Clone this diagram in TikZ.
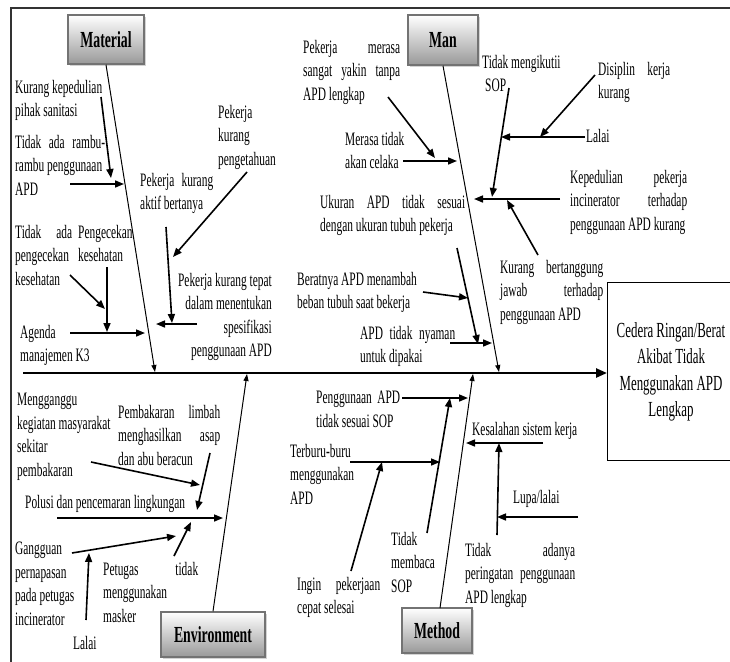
\documentclass[tikz,border=0pt]{standalone}
\usepackage{fontspec}
\setmainfont[FakeStretch=0.6]{Liberation Serif}
\usetikzlibrary{arrows.meta,shadows}
\newcommand\JL[2]{\makebox[#1pt][s]{#2}}
\begin{document}
\begin{tikzpicture}[x=1pt,y=-1pt,
  txt/.style={font=\fontsize{19}{23.5}\selectfont, inner sep=0pt, anchor=north west, align=left},
  cat/.style={draw=black!55, line width=1.5pt, top color=white, bottom color=black!40,
    font=\fontsize{23}{26}\selectfont\bfseries, inner sep=0pt,
    drop shadow={shadow xshift=2pt, shadow yshift=-2pt, opacity=0.35}},
  bone/.style={line width=1pt, -{Triangle[length=7pt,width=5pt]}},
  sub/.style={line width=1.6pt, -{Triangle[length=9pt,width=7pt]}},
  spine/.style={line width=2.4pt, -{Triangle[length=11pt,width=9pt]}},
  frame/.style={line width=1.6pt, draw=black!80}
]
\useasboundingbox (0,0) rectangle (730,661);
% frame
\coordinate (fTL) at (11,8);
\coordinate (fTR) at (731,8);
\coordinate (fBL) at (11,662);
\draw[frame] (fBL) -- (fTL) -- (fTR);

% effect box
\node[draw, line width=1.2pt, anchor=north west, minimum width=130pt, minimum height=178pt, inner sep=0pt] (eff) at (607,282) {};
\node[font=\fontsize{21.5}{26.5}\selectfont, align=center, inner sep=0pt] (efftxt) at (671,372)
  {Cedera Ringan/Berat\\Akibat Tidak\\Menggunakan APD\\Lengkap};

% spine
\coordinate (sL) at (23,373);
\draw[spine] (sL) -- (eff.west |- sL);

% category boxes
\node[cat, minimum width=76pt, minimum height=49pt] (mat) at (106,39.5) {Material};
\node[cat, minimum width=70pt, minimum height=50pt] (man) at (443,40) {Man};
\node[cat, minimum width=104pt, minimum height=45pt] (env) at (213,634.5) {Environment};
\node[cat, minimum width=70pt, minimum height=45pt] (met) at (437,630.5) {Method};

% bones
\coordinate (matS) at (155,372);
\coordinate (manS) at (499,372);
\coordinate (envS) at (247,374);
\coordinate (metS) at (473,374);
\coordinate (metB) at (440,608);
\draw[bone] (mat.south) -- (matS);
\draw[bone] (man.south) -- (manS);
\draw[bone] (env.north) -- (envS);
\draw[bone] (metB) -- (metS);

% ---------- Material texts ----------
\node[txt] (t1) at (15,80) {Kurang kepedulian\\pihak sanitasi};
\node[txt] (t2) at (15,135) {\JL{90}{Tidak ada rambu-}\\rambu penggunaan\\APD};
\node[txt] (t3) at (218,105) {Pekerja\\kurang\\pengetahuan};
\node[txt] (t4) at (140,173) {\JL{73}{Pekerja kurang}\\aktif bertanya};
\node[txt] (t5) at (15,225) {\JL{57}{Tidak ada}\\pengecekan\\kesehatan};
\node[txt] (t6) at (78,225) {Pengecekan\\kesehatan};
\node[txt, anchor=north east, align=right] (t7) at (272,273) {Pekerja kurang tepat\\dalam menentukan\\spesifikasi\\penggunaan APD};
\node[txt] (t8) at (20,325) {Agenda\\manajemen K3};

\coordinate (a1s) at (101,97);  \coordinate (a1e) at (111,178);
\coordinate (a2s) at (70,184);  \coordinate (a2e) at (124,184);
\coordinate (a3s) at (247,172); \coordinate (a3e) at (173,257);
\coordinate (a4s) at (166,227); \coordinate (a4e) at (172,323);
\coordinate (a5s) at (197,324); \coordinate (a5e) at (156,324);
\coordinate (a6s) at (70,275);  \coordinate (a6e) at (105,309);
\coordinate (a7s) at (107,267); \coordinate (a7e) at (107,332);
\coordinate (a8s) at (70,333);  \coordinate (a8e) at (145,333);
\draw[sub] (a1s) -- (a1e);
\draw[sub] (a2s) -- (a2e);
\draw[sub] (a3s) -- (a3e);
\draw[sub] (a4s) -- (a4e);
\draw[sub] (a5s) -- (a5e);
\draw[sub] (a6s) -- (a6e);
\draw[sub] (a7s) -- (a7e);
\draw[sub] (a8s) -- (a8e);

% ---------- Man texts ----------
\node[txt] (u1) at (303,40) {\JL{97}{Pekerja merasa}\\\JL{97}{sangat yakin tanpa}\\APD lengkap};
\node[txt] (u2) at (345,132) {Merasa tidak\\akan celaka};
\node[txt] (u3) at (482,55) {Tidak mengikutii\\\hspace*{3pt}SOP};
\node[txt] (u4) at (598,62) {\JL{72}{Disiplin kerja}\\kurang};
\node[txt, anchor=west] (u5) at (586,136) {Lalai};
\node[txt] (u6) at (570,170) {\JL{117}{Kepedulian pekerja}\\\JL{117}{incinerator terhadap}\\penggunaan APD kurang};
\node[txt] (u7) at (320,195) {\JL{145}{Ukuran APD tidak sesuai}\\dengan ukuran tubuh pekerja};
\node[txt] (u8) at (500,260) {\JL{103}{Kurang bertanggung}\\\JL{103}{jawab terhadap}\\penggunaan APD};
\node[txt] (u9) at (297,272) {Beratnya APD menambah\\beban tubuh saat bekerja};
\node[txt] (u10) at (360,326) {\JL{95}{APD tidak nyaman}\\untuk dipakai};

\coordinate (b1s) at (388,97);  \coordinate (b1e) at (435,158);
\coordinate (b2s) at (403,161); \coordinate (b2e) at (457,161);
\coordinate (b3s) at (509,88);  \coordinate (b3e) at (492,197);
\coordinate (b4s) at (595,75);  \coordinate (b4e) at (540,137);
\coordinate (b5s) at (585,137); \coordinate (b5e) at (501,137);
\coordinate (b6s) at (560,199); \coordinate (b6e) at (474,199);
\coordinate (b7s) at (538,255); \coordinate (b7e) at (507,200);
\coordinate (b8s) at (457,248); \coordinate (b8e) at (478,344);
\coordinate (b9s) at (423,292); \coordinate (b9e) at (468,298);
\coordinate (b10s) at (450,343); \coordinate (b10e) at (492,343);
\draw[sub] (b1s) -- (b1e);
\draw[sub] (b2s) -- (b2e);
\draw[sub] (b3s) -- (b3e);
\draw[sub] (b4s) -- (b4e);
\draw[sub] (b5s) -- (b5e);
\draw[sub] (b6s) -- (b6e);
\draw[sub] (b7s) -- (b7e);
\draw[sub] (b8s) -- (b8e);
\draw[sub] (b9s) -- (b9e);
\draw[sub] (b10s) -- (b10e);

% ---------- Environment texts ----------
\node[txt] (e1) at (17,393) {Mengganggu\\kegiatan masyarakat\\sekitar\\pembakaran};
\node[txt] (e2) at (118,405) {\JL{102}{Pembakaran limbah}\\\JL{102}{menghasilkan asap}\\dan abu beracun};
\node[txt] (e3) at (25,495) {Polusi dan pencemaran lingkungan};
\node[txt] (e4) at (15,542) {Gangguan\\pernapasan\\pada petugas\\incinerator};
\node[txt] (e5) at (73,636) {Lalai};
\node[txt] (e6) at (103,562) {\JL{95}{Petugas tidak}\\menggunakan\\masker};

\coordinate (c1s) at (91,462);  \coordinate (c1e) at (200,485);
\coordinate (c2s) at (210,453); \coordinate (c2e) at (197,510);
\coordinate (c3s) at (57,518);  \coordinate (c3e) at (223,518);
\coordinate (c4s) at (72,553);  \coordinate (c4e) at (176,536);
\coordinate (c5s) at (86,620);  \coordinate (c5e) at (89,553);
\coordinate (c6s) at (174,556); \coordinate (c6e) at (191,522);
\draw[sub] (c1s) -- (c1e);
\draw[sub] (c2s) -- (c2e);
\draw[sub] (c3s) -- (c3e);
\draw[sub] (c4s) -- (c4e);
\draw[sub] (c5s) -- (c5e);
\draw[sub] (c6s) -- (c6e);

% ---------- Method texts ----------
\node[txt] (m1) at (316,391) {\JL{84}{Penggunaan APD}\\tidak sesuai SOP};
\node[txt] (m2) at (290,444) {Terburu-buru\\menggunakan\\APD};
\node[txt] (m3) at (297,577) {\JL{83}{Ingin pekerjaan}\\cepat selesai};
\node[txt] (m4) at (391,532) {Tidak\\membaca\\SOP};
\node[txt] (m5) at (472,422) {Kesalahan sistem kerja};
\node[txt] (m6) at (513,490) {Lupa/lalai};
\node[txt] (m7) at (465,543) {\JL{110}{Tidak adanya}\\\JL{110}{peringatan penggunaan}\\APD lengkap};

\coordinate (d1s) at (402,398); \coordinate (d1e) at (468,398);
\coordinate (d2s) at (350,462); \coordinate (d2e) at (440,462);
\coordinate (d3s) at (351,571); \coordinate (d3e) at (382,462);
\coordinate (d4s) at (427,533); \coordinate (d4e) at (450,398);
\coordinate (d5s) at (543,443); \coordinate (d5e) at (466,443);
\coordinate (d6s) at (578,517); \coordinate (d6e) at (497,517);
\coordinate (d7s) at (497,535); \coordinate (d7e) at (499,443);
\draw[sub] (d1s) -- (d1e);
\draw[sub] (d2s) -- (d2e);
\draw[sub] (d3s) -- (d3e);
\draw[sub] (d4s) -- (d4e);
\draw[sub] (d5s) -- (d5e);
\draw[sub] (d6s) -- (d6e);
\draw[sub] (d7s) -- (d7e);
\end{tikzpicture}
\end{document}
